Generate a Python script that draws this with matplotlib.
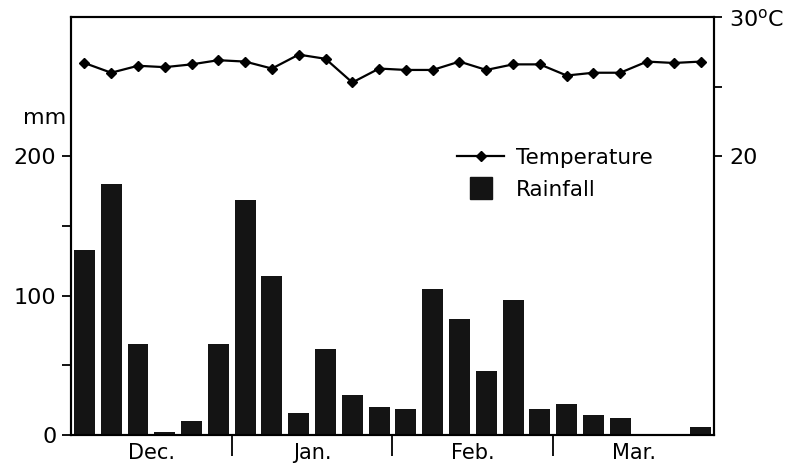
import numpy as np
import matplotlib
matplotlib.use("Agg")
import matplotlib.pyplot as plt
from matplotlib.lines import Line2D

# 24 periods (6 per month), Dec - Mar
months = ["Dec.", "Jan.", "Feb.", "Mar."]
rainfall = [133, 180, 65, 2, 10, 65,
            169, 114, 16, 62, 29, 20,
            19, 105, 83, 46, 97, 19,
            22, 14, 12, 0, 1, 6]
temperature = [26.7, 26.0, 26.5, 26.4, 26.6, 26.9,
               26.8, 26.3, 27.3, 27.0, 25.3, 26.3,
               26.2, 26.2, 26.8, 26.2, 26.6, 26.6,
               25.8, 26.0, 26.0, 26.8, 26.7, 26.8]

x = np.arange(len(rainfall))

plt.rcParams['font.family'] = ['DejaVu Sans']

fig = plt.figure(figsize=(7.94, 4.75), dpi=100)
ax = fig.add_axes([71 / 794, 40 / 475, 643 / 794, 418 / 475])
ax2 = ax.twinx()

ax.bar(x, rainfall, width=0.78, color='#141414', zorder=2)
ax.set_xlim(-0.5, len(x) - 0.5)
ax.set_ylim(0, 300)

ax2.plot(x, temperature, color='black', lw=1.6, marker='D', ms=5, zorder=3)
ax2.set_ylim(0, 30)

for a in (ax, ax2):
    for s in a.spines.values():
        s.set_linewidth(1.5)

# left axis
ax.set_yticks([0, 100, 200])
ax.set_yticks([50, 150], minor=True)
ax.tick_params(axis='y', which='both', direction='out', length=6.5, width=1.3,
               labelsize=16, pad=4)

# month labels and separators
ax.set_xticks([2.5, 8.5, 14.5, 20.5])
ax.set_xticklabels(months)
ax.set_xticks([5.5, 11.5, 17.5], minor=True)
ax.tick_params(axis='x', which='major', length=0, labelsize=15, pad=6)
ax.tick_params(axis='x', which='minor', direction='out', length=15, width=1.3)

# right axis
ax2.set_yticks([20, 30])
ax2.set_yticklabels(['20', '30$^{\\rm o}$C'])
ax2.set_yticks([25], minor=True)
ax2.tick_params(axis='y', which='both', direction='out', length=6, width=1.3,
                labelsize=16, pad=5)

fig.text(45 / 794, 1 - 118 / 475, 'mm', ha='center', va='center', fontsize=16)

handles = [Line2D([], [], color='black', lw=1.6, marker='D', ms=5),
           Line2D([], [], color='#141414', marker='s', ms=16, ls='none')]
ax2.legend(handles, ['Temperature', 'Rainfall'], loc='upper left',
           bbox_to_anchor=(457 / 794, 1 - 148 / 475), bbox_transform=fig.transFigure,
           frameon=False, fontsize=15.5, handlelength=2.2, handletextpad=0.55,
           borderpad=0, borderaxespad=0, labelspacing=0.55)

fig.savefig('out.png', dpi=100)
